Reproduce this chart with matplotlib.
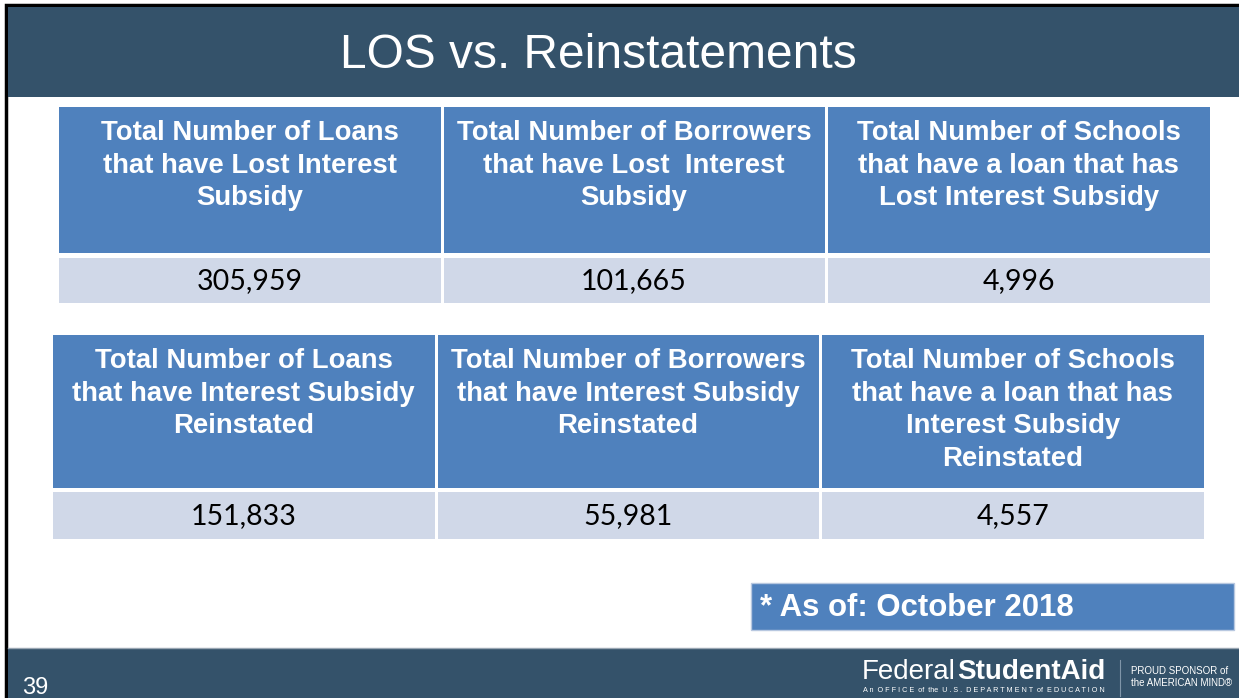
import matplotlib.pyplot as plt
from matplotlib.patches import Rectangle

plt.rcParams['font.family'] = ['Liberation Sans', 'DejaVu Sans']

# slide content
title = "LOS vs. Reinstatements"
lost_headers = ["Total Number of Loans\nthat have Lost Interest\nSubsidy",
                "Total Number of Borrowers\nthat have Lost  Interest\nSubsidy",
                "Total Number of Schools\nthat have a loan that has\nLost Interest Subsidy"]
lost_values = [305959, 101665, 4996]
reinst_headers = ["Total Number of Loans\nthat have Interest Subsidy\nReinstated",
                  "Total Number of Borrowers\nthat have Interest Subsidy\nReinstated",
                  "Total Number of Schools\nthat have a loan that has\nInterest Subsidy\nReinstated"]
reinst_values = [151833, 55981, 4557]
note = "* As of: October 2018"
page_no = "39"

dark = "#34526a"
blue = "#4f81bd"
light = "#d0d8e8"

fig = plt.figure(figsize=(12.39, 6.98), dpi=100)
ax = fig.add_axes([0, 0, 1, 1])
ax.set_xlim(0, 1239)
ax.set_ylim(698, 0)
ax.axis("off")

# slide frame, header and footer bands
ax.add_patch(Rectangle((6, 5), 1240, 700, facecolor="white", edgecolor="black", lw=2.5))
ax.add_patch(Rectangle((8, 7), 1235, 90, facecolor=dark, edgecolor="none"))
ax.add_patch(Rectangle((8, 648), 1235, 55, facecolor=dark, edgecolor="none"))
ax.plot([8, 1239], [648, 648], color="#9aa7b3", lw=1)
ax.text(598, 55, title, color="white", fontsize=34.5, ha="center", va="center")


def draw_table(y_head, h_head, y_val, h_val, col_edges, headers, values):
    for i, (hdr, val) in enumerate(zip(headers, values)):
        left = col_edges[i] + (0 if i == 0 else 1.5)
        right = col_edges[i + 1] - (0 if i == len(headers) - 1 else 1.5)
        ax.add_patch(Rectangle((left, y_head), right - left, h_head, facecolor=blue, edgecolor="none"))
        ax.add_patch(Rectangle((left, y_val), right - left, h_val, facecolor=light, edgecolor="none"))
        cx = (left + right) / 2
        ax.text(cx, y_head + 13, hdr, color="white", fontsize=19.8, fontweight="bold",
                ha="center", va="top", linespacing=1.33)
        ax.text(cx, y_val + h_val / 2 + 1, f"{val:,}", color="black", fontsize=20.5,
                ha="center", va="center", family=["Lato", "DejaVu Sans"])


draw_table(107, 146, 258, 45, [59, 442, 826, 1210], lost_headers, lost_values)
draw_table(335, 153, 492, 47, [53, 436, 820, 1204], reinst_headers, reinst_values)

# note box
ax.add_patch(Rectangle((751, 583), 483, 47, facecolor=blue, edgecolor="#b8c8e0", lw=1))
ax.text(760, 608, note, color="white", fontsize=22.4, fontweight="bold", ha="left", va="center")

# footer
ax.text(22, 688, page_no, color="white", fontsize=17, ha="left", va="center")
ax.text(862, 672, "Federal", color="white", fontsize=20, ha="left", va="center")
ax.text(957, 672, "StudentAid", color="white", fontsize=20, fontweight="bold", ha="left", va="center")
ax.text(863, 691, "A n  O F F I C E  of  the  U . S .  D E P A R T M E N T  of  E D U C A T I O N",
        color="white", fontsize=5.2, ha="left", va="center")
ax.plot([1120, 1120], [660, 696], color="#7f95a8", lw=0.8)
ax.text(1131, 671, "PROUD SPONSOR of", color="white", fontsize=7, ha="left", va="center")
ax.text(1131, 683, "the AMERICAN MIND\u00ae", color="white", fontsize=7, ha="left", va="center")

fig.savefig("out.png", dpi=100)
